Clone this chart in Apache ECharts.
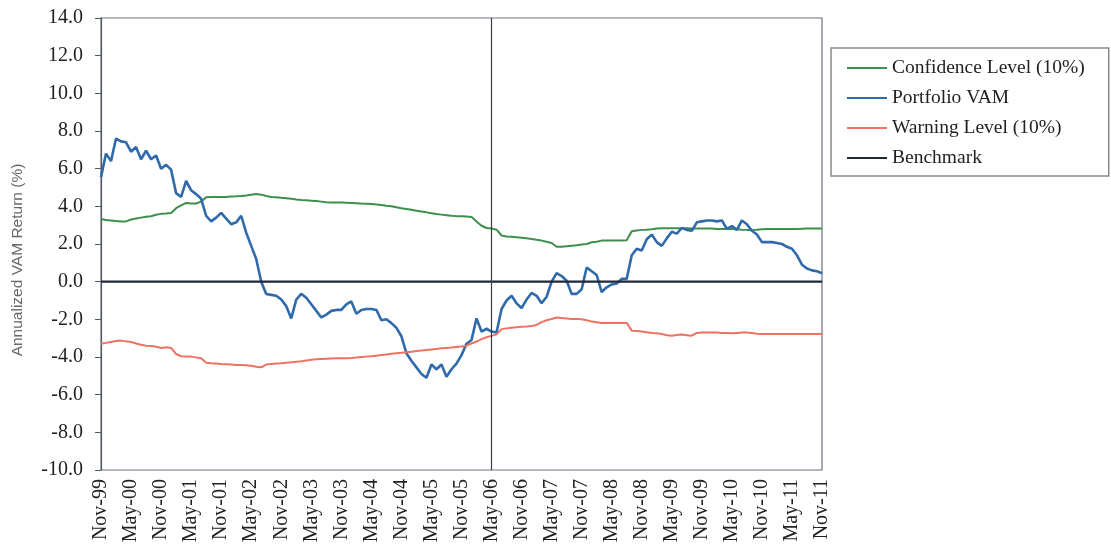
<!DOCTYPE html>
<html><head><meta charset="utf-8">
<script src="https://cdn.jsdelivr.net/npm/echarts@6/dist/echarts.min.js"></script>
<style>html,body{margin:0;padding:0;background:#fff}#c{width:1111px;height:548px}</style>
</head><body><div id="c"></div><script>
// Month names used to build category labels (Nov-99 .. Nov-11, monthly)
const monthNames = ['Jan','Feb','Mar','Apr','May','Jun','Jul','Aug','Sep','Oct','Nov','Dec'];
const categories = [];
for (let i = 0; i < 145; i++) {
  const m = (10 + i) % 12;
  const y = (1999 + Math.floor((10 + i) / 12)) % 100;
  categories.push(monthNames[m] + '-' + String(y).padStart(2, '0'));
}

const portfolioVAM = [
 5.55,6.8,6.4,7.6,7.45,7.4,6.9,7.15,6.5,6.95,
 6.5,6.7,6.0,6.2,5.95,4.7,4.5,5.35,4.85,4.65,
 4.4,3.5,3.2,3.4,3.65,3.35,3.05,3.15,3.5,2.6,
 1.9,1.2,0.0,-0.65,-0.7,-0.75,-0.95,-1.3,-1.95,-0.95,
 -0.65,-0.85,-1.2,-1.55,-1.9,-1.75,-1.55,-1.5,-1.5,-1.2,
 -1.05,-1.7,-1.5,-1.45,-1.45,-1.5,-2.05,-2.0,-2.2,-2.45,
 -2.9,-3.8,-4.2,-4.55,-4.9,-5.1,-4.4,-4.65,-4.4,-5.05,
 -4.65,-4.35,-3.9,-3.3,-3.1,-1.95,-2.65,-2.5,-2.65,-2.7,
 -1.45,-1.0,-0.75,-1.15,-1.4,-0.95,-0.6,-0.75,-1.15,-0.8,
 0.0,0.45,0.3,0.05,-0.65,-0.65,-0.4,0.75,0.55,0.35,
 -0.55,-0.3,-0.15,-0.1,0.15,0.15,1.4,1.75,1.65,2.25,
 2.5,2.1,1.9,2.3,2.65,2.55,2.85,2.75,2.7,3.15,
 3.2,3.25,3.25,3.2,3.25,2.8,2.95,2.75,3.25,3.05,
 2.7,2.5,2.1,2.1,2.1,2.05,2.0,1.85,1.75,1.4,
 0.9,0.7,0.6,0.55,0.45
];

const confidenceLevel = [
 3.33,3.28,3.25,3.22,3.2,3.2,3.3,3.35,3.4,3.45,
 3.47,3.55,3.6,3.62,3.65,3.9,4.05,4.18,4.15,4.15,
 4.25,4.48,4.5,4.5,4.5,4.5,4.52,4.53,4.55,4.58,
 4.62,4.65,4.62,4.55,4.5,4.48,4.45,4.43,4.4,4.36,
 4.33,4.32,4.3,4.28,4.25,4.22,4.21,4.2,4.2,4.19,
 4.18,4.17,4.15,4.14,4.13,4.1,4.07,4.03,4.0,3.95,
 3.9,3.86,3.82,3.77,3.72,3.68,3.63,3.59,3.56,3.53,
 3.5,3.48,3.47,3.46,3.44,3.19,2.97,2.85,2.82,2.76,
 2.45,2.4,2.38,2.36,2.33,2.3,2.27,2.22,2.18,2.12,
 2.05,1.85,1.86,1.88,1.91,1.93,1.97,2.0,2.09,2.12,
 2.18,2.18,2.18,2.18,2.18,2.2,2.68,2.72,2.75,2.76,
 2.78,2.82,2.83,2.83,2.83,2.83,2.83,2.83,2.82,2.82,
 2.82,2.82,2.82,2.8,2.8,2.8,2.8,2.78,2.76,2.75,
 2.75,2.76,2.78,2.8,2.8,2.8,2.8,2.8,2.8,2.8,
 2.81,2.82,2.82,2.82,2.82
];

const warningLevel = [
 -3.3,-3.25,-3.2,-3.15,-3.13,-3.17,-3.2,-3.28,-3.35,-3.4,
 -3.42,-3.45,-3.52,-3.48,-3.52,-3.84,-3.96,-3.97,-3.98,-4.02,
 -4.07,-4.3,-4.33,-4.35,-4.37,-4.38,-4.4,-4.42,-4.43,-4.44,
 -4.46,-4.52,-4.55,-4.4,-4.37,-4.35,-4.33,-4.3,-4.28,-4.25,
 -4.22,-4.18,-4.15,-4.12,-4.1,-4.09,-4.08,-4.07,-4.07,-4.06,
 -4.05,-4.03,-4.0,-3.98,-3.96,-3.93,-3.9,-3.87,-3.83,-3.8,
 -3.78,-3.75,-3.72,-3.68,-3.66,-3.63,-3.6,-3.57,-3.54,-3.52,
 -3.5,-3.47,-3.44,-3.4,-3.28,-3.18,-3.05,-2.95,-2.88,-2.8,
 -2.52,-2.48,-2.45,-2.42,-2.4,-2.38,-2.35,-2.3,-2.15,-2.05,
 -1.98,-1.9,-1.93,-1.96,-1.98,-1.98,-2.0,-2.05,-2.12,-2.15,
 -2.19,-2.19,-2.19,-2.19,-2.19,-2.19,-2.6,-2.62,-2.65,-2.68,
 -2.72,-2.74,-2.78,-2.85,-2.87,-2.83,-2.81,-2.84,-2.87,-2.72,
 -2.7,-2.7,-2.7,-2.7,-2.72,-2.72,-2.74,-2.72,-2.7,-2.7,
 -2.72,-2.76,-2.78,-2.78,-2.78,-2.78,-2.78,-2.78,-2.78,-2.78,
 -2.78,-2.78,-2.78,-2.78,-2.78
];

const benchmark = [['Nov-99', 0], ['Nov-11', 0]];
const splitDate = 'May-06';
const yTicks = { min: -10, max: 14, interval: 2 };

const serif = '"Liberation Serif", "Times New Roman", serif';
const chart = echarts.init(document.getElementById('c'), null, { renderer: 'canvas' });
chart.setOption({
  animation: false,
  backgroundColor: '#ffffff',
  grid: { left: 101, right: 289, top: 18, bottom: 78, show: true, borderColor: '#6d7280', borderWidth: 1.2, backgroundColor: 'transparent' },
  legend: {
    orient: 'vertical', left: 831, top: 48,
    padding: [10, 24, 8, 16],
    borderColor: '#8a8a8a', borderWidth: 1.5,
    itemWidth: 40, itemHeight: 2, itemGap: 10, icon: 'rect',
    textStyle: { fontFamily: serif, fontSize: 19.5, color: '#222', lineHeight: 20 },
    data: ['Confidence Level (10%)', 'Portfolio VAM', 'Warning Level (10%)', 'Benchmark']
  },
  xAxis: {
    type: 'category', data: categories, boundaryGap: false,
    axisLine: { lineStyle: { color: '#555a66', width: 1.2 } },
    axisTick: { show: false },
    axisLabel: { interval: 5, rotate: 90, margin: 9, fontFamily: serif, fontSize: 20, color: '#222' },
    splitLine: { show: false }
  },
  yAxis: {
    type: 'value', min: yTicks.min, max: yTicks.max, interval: yTicks.interval,
    axisLine: { show: true, lineStyle: { color: '#555a66', width: 1.2 } },
    axisTick: { show: true, length: 6, lineStyle: { color: '#555a66' } },
    axisLabel: { margin: 18, fontFamily: serif, fontSize: 20, color: '#222', formatter: v => v.toFixed(1) },
    splitLine: { show: false }
  },
  graphic: [{
    type: 'text', x: 18, y: 260, rotation: Math.PI / 2,
    style: { text: 'Annualized VAM Return (%)', fontFamily: '"Liberation Sans", Arial, sans-serif', fontSize: 15.5, fill: '#666', align: 'center', verticalAlign: 'middle' }
  }],
  series: [
    { name: 'Confidence Level (10%)', type: 'line', data: confidenceLevel, showSymbol: false, color: '#3e8e4c', lineStyle: { width: 2, color: '#3e8e4c' } },
    { name: 'Portfolio VAM', type: 'line', data: portfolioVAM, showSymbol: false, color: '#2f6aaa', lineStyle: { width: 2.6, color: '#2f6aaa' } },
    { name: 'Warning Level (10%)', type: 'line', data: warningLevel, showSymbol: false, color: '#ec7262', lineStyle: { width: 2, color: '#ec7262' } },
    { name: 'Benchmark', type: 'line', data: benchmark, showSymbol: false, color: '#1e2838', lineStyle: { width: 2.4, color: '#1e2838' },
      markLine: { silent: true, symbol: 'none', label: { show: false }, lineStyle: { type: 'solid', color: '#3a3d45', width: 1.2 }, data: [{ xAxis: splitDate }] } }
  ]
});
</script></body></html>
